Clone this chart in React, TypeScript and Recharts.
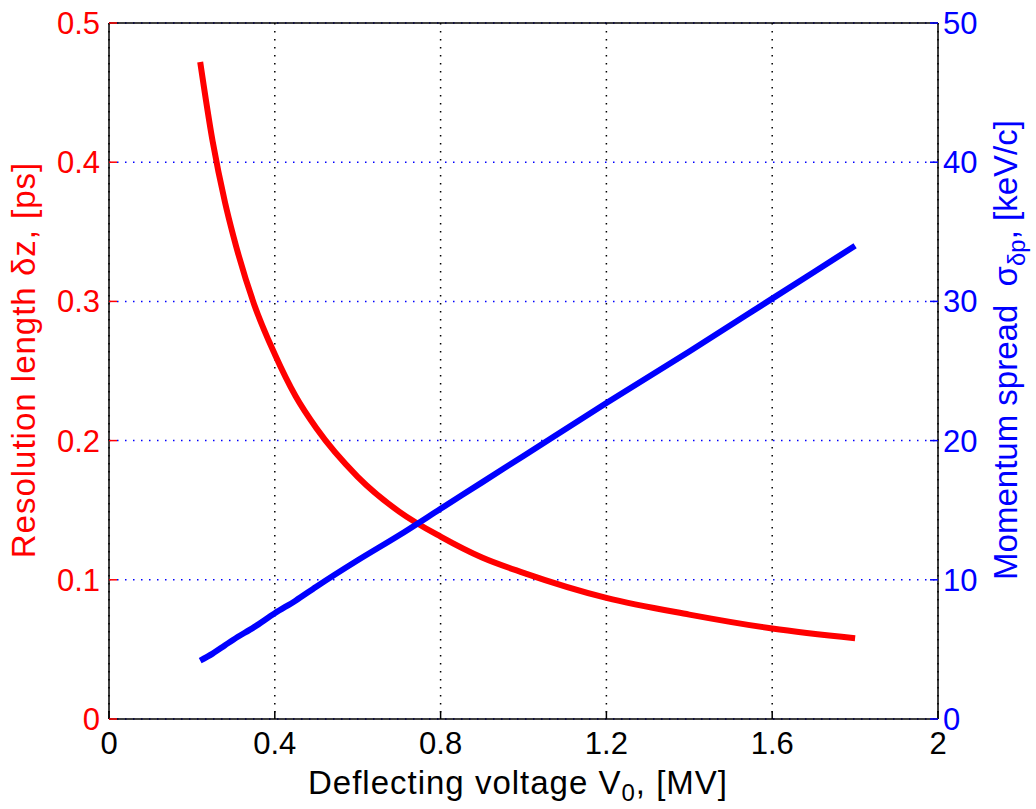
import React from 'react';
import {
  ComposedChart,
  Line,
  XAxis,
  YAxis,
  CartesianGrid,
  ReferenceLine,
  Label
} from 'recharts';

// values
const voltage = [0.22, 0.25, 0.28, 0.3, 0.35, 0.4, 0.45, 0.5, 0.6, 0.7, 0.8, 0.9, 1.0, 1.2, 1.4, 1.6, 1.8];
const resolution = [0.472, 0.415, 0.371, 0.347, 0.298, 0.262, 0.232, 0.209, 0.174, 0.149, 0.131, 0.116, 0.105, 0.087, 0.075, 0.065, 0.058];
const momentum = [4.2, 4.7, 5.3, 5.7, 6.6, 7.6, 8.5, 9.5, 11.4, 13.2, 15.1, 17.0, 18.9, 22.7, 26.4, 30.2, 34.0];

const xTicks = [0, 0.4, 0.8, 1.2, 1.6, 2];
const leftTicks = [0, 0.1, 0.2, 0.3, 0.4, 0.5];
const rightTicks = [0, 10, 20, 30, 40, 50];

const data = voltage.map((v, i) => ({ v, dz: resolution[i], sp: momentum[i] }));

const FONT = '"Liberation Sans", Arial, sans-serif';
const RED = '#ff0000';
const BLUE = '#0000ff';
const TICK_FS = 31;
const TITLE_FS = 33;

const LeftTick = (p: any) => (
  <g>
    <line x1={p.x + 9} x2={p.x + 17} y1={p.y} y2={p.y} stroke={RED} strokeWidth={1.5} />
    <text x={p.x} y={p.y} dy={11} textAnchor="end" fill={RED} fontSize={TICK_FS} fontFamily={FONT}>
      {String(p.payload.value)}
    </text>
  </g>
);

const RightTick = (p: any) => (
  <g>
    <line x1={p.x - 5} x2={p.x - 13} y1={p.y} y2={p.y} stroke={BLUE} strokeWidth={1.5} />
    <text x={p.x} y={p.y} dy={11} textAnchor="start" fill={BLUE} fontSize={TICK_FS} fontFamily={FONT}>
      {String(p.payload.value)}
    </text>
  </g>
);

const BottomTick = (p: any) => (
  <g>
    <line x1={p.x} x2={p.x} y1={p.y} y2={p.y - 8} stroke="#000" strokeWidth={1.5} />
    <text x={p.x} y={p.y + 35} textAnchor="middle" fill="#000" fontSize={TICK_FS} fontFamily={FONT}>
      {String(p.payload.value)}
    </text>
  </g>
);

const App: React.FC = () => {
  return (
    <div style={{ position: 'absolute', left: 0, top: 0, width: 1036, height: 809, background: '#fff' }}>
      <ComposedChart
        width={1036}
        height={809}
        data={data}
        margin={{ top: 23, right: 0, left: 0, bottom: 0 }}
      >
        <CartesianGrid
          horizontal={false}
          stroke="#000"
          strokeWidth={1.5}
          strokeDasharray="1.5 6.5"
        />
        <CartesianGrid
          vertical={false}
          yAxisId="right"
          stroke={BLUE}
          strokeWidth={1.5}
          strokeDasharray="1.5 6.5"
        />
        <XAxis
          dataKey="v"
          type="number"
          domain={[0, 2]}
          ticks={xTicks}
          height={90}
          tickSize={0}
          tickMargin={0}
          tickLine={false}
          axisLine={{ stroke: '#000', strokeWidth: 1.5 }}
          tick={BottomTick}
          interval={0}
        >
          <Label
            content={() => (
              <text x={518} y={794} textAnchor="middle" fontSize={TITLE_FS} letterSpacing={1} fontFamily={FONT} fill="#000">
                Deflecting voltage V
                <tspan fontSize={24} dy={7}>0</tspan>
                <tspan dy={-7}>, [MV]</tspan>
              </text>
            )}
          />
        </XAxis>
        <YAxis
          yAxisId="left"
          domain={[0, 0.5]}
          ticks={leftTicks}
          width={109}
          tickSize={0}
          tickMargin={9}
          tickLine={false}
          axisLine={{ stroke: '#000', strokeWidth: 1.5 }}
          tick={LeftTick}
          interval={0}
        >
          <Label
            content={() => (
              <text
                transform="rotate(-90)"
                x={-360}
                y={35}
                textAnchor="middle"
                fontSize={TITLE_FS}
                letterSpacing={1}
                fontFamily={FONT}
                fill={RED}
              >
                Resolution length δz, [ps]
              </text>
            )}
          />
        </YAxis>
        <YAxis
          yAxisId="right"
          orientation="right"
          domain={[0, 50]}
          ticks={rightTicks}
          width={98}
          tickSize={0}
          tickMargin={5}
          tickLine={false}
          axisLine={{ stroke: '#000', strokeWidth: 1.5 }}
          tick={RightTick}
          interval={0}
        >
          <Label
            content={() => (
              <text
                transform="rotate(-90)"
                x={-350}
                y={1017}
                textAnchor="middle"
                fontSize={TITLE_FS}
                fontFamily={FONT}
                fill={BLUE}
                style={{ whiteSpace: 'pre' }}
              >
                {'Momentum spread  σ'}
                <tspan fontSize={24} dy={8}>δp</tspan>
                <tspan dy={-8}>, [keV/c]</tspan>
              </text>
            )}
          />
        </YAxis>
        <ReferenceLine yAxisId="left" y={0.5} stroke="#000" strokeWidth={1.5} />
        <Line
          yAxisId="left"
          type="monotone"
          dataKey="dz"
          stroke={RED}
          strokeWidth={6}
          dot={false}
          isAnimationActive={false}
        />
        <Line
          yAxisId="right"
          type="monotone"
          dataKey="sp"
          stroke={BLUE}
          strokeWidth={6}
          dot={false}
          isAnimationActive={false}
        />
      </ComposedChart>
    </div>
  );
};

export default App;
